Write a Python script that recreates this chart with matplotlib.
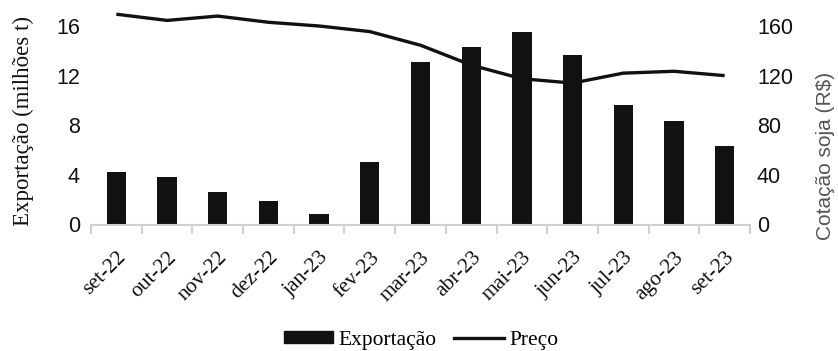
import matplotlib
matplotlib.use('Agg')

import numpy as np
import matplotlib.pyplot as plt
from matplotlib.lines import Line2D
from matplotlib.patches import Patch

# ==========================================
# DATA
# ==========================================

meses = ["set-22", "out-22", "nov-22", "dez-22", "jan-23", "fev-23",
         "mar-23", "abr-23", "mai-23", "jun-23", "jul-23", "ago-23",
         "set-23"]

exportacao = [4.2, 3.8, 2.6, 1.9, 0.85, 5.0, 13.1, 14.3, 15.5, 13.7,
              9.65, 8.35, 6.35]

preco = [169.5, 164.5, 168.0, 163.0, 160.0, 155.5, 144.5, 128.5, 117.5,
         114.0, 122.0, 123.5, 120.0]

SERIF = "Liberation Serif"
SANS = "Liberation Sans"
FS = 15.5

# ==========================================
# FIGURE
# ==========================================

fig = plt.figure(figsize=(8.38, 3.51), dpi=100)
ax1 = fig.add_axes([91/838, 1 - 224.5/351, (750 - 91)/838, (224.5 - 26)/351])
ax2 = ax1.twinx()

x = np.arange(len(meses))

ax1.bar(x, exportacao, width=0.38, color="#111111", zorder=2)

# price line may run above the top of the axis
ax2.plot(x, preco, color="#111111", linewidth=2.4, clip_on=False,
         solid_joinstyle="round", solid_capstyle="butt", zorder=3)

# ==========================================
# AXES
# ==========================================

ax1.set_xlim(-0.5, len(meses) - 0.5)
ax1.set_ylim(0, 16)
ax2.set_ylim(0, 160)

ax1.set_yticks([0, 4, 8, 12, 16])
ax2.set_yticks([0, 40, 80, 120, 160])

for ax in (ax1, ax2):
    for s in ("top", "left", "right"):
        ax.spines[s].set_visible(False)
    ax.tick_params(axis="y", length=0, labelsize=FS, labelcolor="#111111")
    for lab in ax.get_yticklabels():
        lab.set_family(SANS)

ax2.spines["bottom"].set_visible(False)
ax1.spines["bottom"].set_color("#d0d0d0")
ax1.spines["bottom"].set_linewidth(1.5)

ax1.tick_params(axis="y", pad=8)
ax2.tick_params(axis="y", pad=5)

# category boundaries carry the tick marks
ax1.set_xticks(np.arange(-0.5, len(meses)), minor=True)
ax1.tick_params(axis="x", which="minor", length=6.5, width=1.5,
                color="#d0d0d0", direction="out")

ax1.set_xticks(x)
ax1.set_xticklabels(meses, rotation=45, ha="right",
                    rotation_mode="anchor", family=SERIF, fontsize=FS,
                    color="#111111")
ax1.tick_params(axis="x", which="major", length=0, pad=17)

ax1.set_ylabel("Exportação (milhões t)", family=SERIF, fontsize=16.5,
               color="#111111")
ax1.yaxis.set_label_coords((34 - 91)/659, 0.52)

fig.text(825/838, 1 - 156/351, "Cotação soja (R$)", rotation=90,
         ha="center", va="center", family=SANS, fontsize=15,
         color="#555555")

# ==========================================
# LEGEND
# ==========================================

handles = [
    Patch(facecolor="#111111", edgecolor="#111111"),
    Line2D([], [], color="#111111", linewidth=2.4),
]
fig.legend(handles, ["Exportação", "Preço"], loc="center",
           bbox_to_anchor=(421/838, 1 - 340/351), ncol=2, frameon=False,
           prop={"family": SERIF, "size": FS}, handlelength=2.3,
           handleheight=0.5, handletextpad=0.25, columnspacing=0.8,
           borderpad=0, borderaxespad=0)

fig.savefig("out.png", dpi=100)
